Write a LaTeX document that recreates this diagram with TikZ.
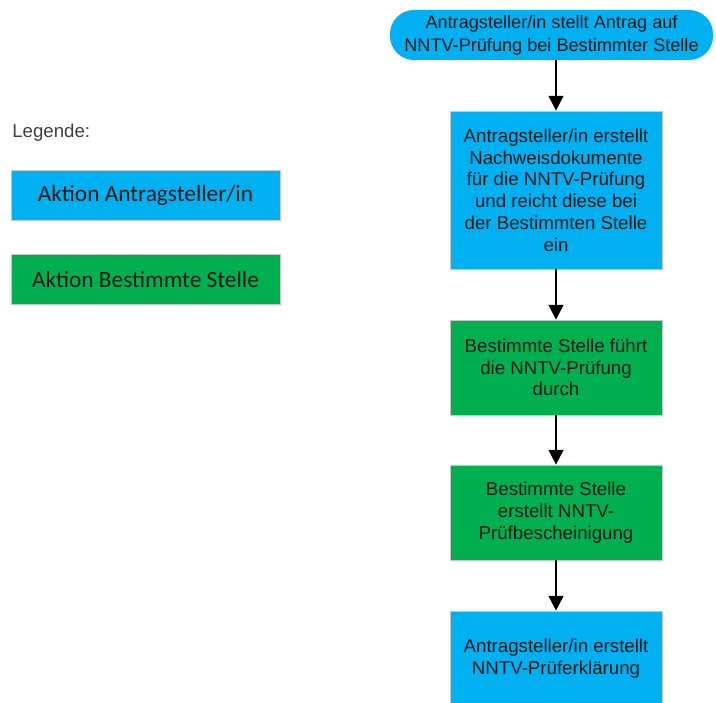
\documentclass[tikz,border=0pt]{standalone}
\usepackage{fontspec}
\setmainfont{Liberation Sans}
\newfontfamily\legfont{Carlito}
\usetikzlibrary{arrows.meta,shadows}
\definecolor{antblue}{HTML}{00B0F0}
\definecolor{stgreen}{HTML}{00B050}
\definecolor{txtdark}{HTML}{1A1A1A}

\begin{document}
\begin{tikzpicture}[x=0.75pt,y=-0.75pt,
    box/.style={draw=black!22,line width=0.6pt,minimum width=159pt,align=center,
        text=txtdark,font=\fontsize{14}{16.3}\selectfont,inner sep=2pt,
        drop shadow={opacity=0.12,shadow xshift=1.2pt,shadow yshift=-1.2pt}},
    antbox/.style={box,fill=antblue},
    stbox/.style={box,fill=stgreen},
    legbox/.style={draw=black!22,line width=0.6pt,minimum width=201.75pt,minimum height=37.5pt,
        text=txtdark,font=\legfont\fontsize{17.5}{20}\selectfont,
        drop shadow={opacity=0.12,shadow xshift=1.2pt,shadow yshift=-1.2pt}},
    flow/.style={-{Triangle[width=11pt,length=11pt]},line width=1.5pt,black}]
    \useasboundingbox (0,0) rectangle (716,702);
    \fill[white] (0,0) rectangle (716,702);
    \node[antbox,rounded corners=18pt,draw=none,minimum width=242.25pt,minimum height=37.5pt,
        font=\fontsize{13.6}{17.3}\selectfont] (start) at (551.5,35)
        {Antragsteller/in stellt Antrag auf\\NNTV-Prüfung bei Bestimmter Stelle};
    \node[antbox,minimum height=118.5pt] (nachweis) at (556,190)
        {Antragsteller/in erstellt\\Nachweisdokumente\\für die NNTV-Prüfung\\und reicht diese bei\\der Bestimmten Stelle\\ein};
    \node[stbox,minimum height=71.25pt] (pruefung) at (556,367.5)
        {Bestimmte Stelle führt\\die NNTV-Prüfung\\durch};
    \node[stbox,minimum height=71.25pt] (bescheinigung) at (556,512.5)
        {Bestimmte Stelle\\erstellt NNTV-\\Prüfbescheinigung};
    \node[antbox,minimum height=72pt] (erklaerung) at (556,659)
        {Antragsteller/in erstellt\\NNTV-Prüferklärung};
    \draw[flow] (start.south -| nachweis.north) -- (nachweis.north);
    \draw[flow] (nachweis) -- (pruefung);
    \draw[flow] (pruefung) -- (bescheinigung);
    \draw[flow] (bescheinigung) -- (erklaerung);
    \node[anchor=west,text=black!75,font=\fontsize{14}{16}\selectfont,inner sep=0pt] (legende) at (12,133) {Legende:};
    \node[legbox,fill=antblue] (legant) at (145.5,195) {Aktion Antragsteller/in};
    \node[legbox,fill=stgreen] (legst) at (145.5,279) {Aktion Bestimmte Stelle};
\end{tikzpicture}
\end{document}
